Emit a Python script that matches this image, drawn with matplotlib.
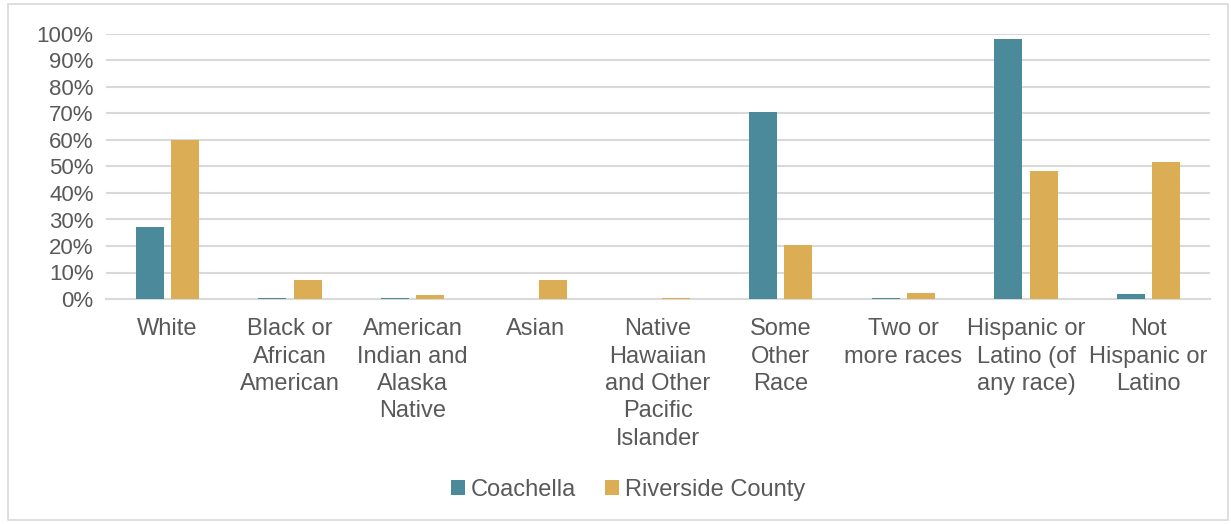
import matplotlib.pyplot as plt
import numpy as np
from matplotlib.ticker import PercentFormatter
from matplotlib.patches import Rectangle

categories = ['White', 'Black or\nAfrican\nAmerican', 'American\nIndian and\nAlaska\nNative',
              'Asian', 'Native\nHawaiian\nand Other\nPacific\nIslander', 'Some\nOther\nRace',
              'Two or\nmore races', 'Hispanic or\nLatino (of\nany race)', 'Not\nHispanic or\nLatino']
coachella = [27.3, 0.3, 0.3, 0.0, 0.0, 70.5, 0.3, 98.1, 1.9]
riverside = [60.1, 7.1, 1.5, 7.3, 0.3, 20.5, 2.2, 48.4, 51.6]

c_coach = '#4a8a9b'
c_river = '#dbae56'
text_c = '#595959'

plt.rcParams['font.family'] = ['Liberation Sans', 'DejaVu Sans']

fig = plt.figure(figsize=(12.31, 5.24), dpi=100)
ax = fig.add_axes([106 / 1231, 1 - 299 / 524, (1210 - 106) / 1231, (299 - 34) / 524])

x = np.arange(len(categories))
w = 0.228
ax.bar(x - 0.143, coachella, w, color=c_coach, label='Coachella', zorder=3)
ax.bar(x + 0.143, riverside, w, color=c_river, label='Riverside County', zorder=3)

ax.set_ylim(0, 100)
ax.set_xlim(-0.5, len(categories) - 0.5)
ax.set_yticks(np.arange(0, 101, 10))
ax.yaxis.set_major_formatter(PercentFormatter(decimals=0))
ax.grid(axis='y', color='#d9d9d9', linewidth=1.5, zorder=0)
for s in ['top', 'right', 'left']:
    ax.spines[s].set_visible(False)
ax.spines['bottom'].set_color('#d9d9d9')
ax.spines['bottom'].set_linewidth(1.5)

ax.set_xticks(x)
ax.set_xticklabels(categories, fontsize=17, color=text_c, va='top', linespacing=1.31)
ax.tick_params(axis='x', length=0, pad=14)
ax.tick_params(axis='y', length=0, pad=9, labelsize=16, labelcolor=text_c)

leg = fig.legend(loc='center', bbox_to_anchor=(628 / 1231, 1 - 490 / 524), ncol=2,
                 frameon=False, fontsize=17, handlelength=0.6, handleheight=0.6,
                 handletextpad=0.25, columnspacing=1.2, labelcolor=text_c)

fig.patches.append(Rectangle((8 / 1231, 4 / 524), 1220 / 1231, 516 / 524, transform=fig.transFigure,
                             fill=False, edgecolor='#d9d9d9', linewidth=1.2))

fig.savefig('out.png', dpi=100)
